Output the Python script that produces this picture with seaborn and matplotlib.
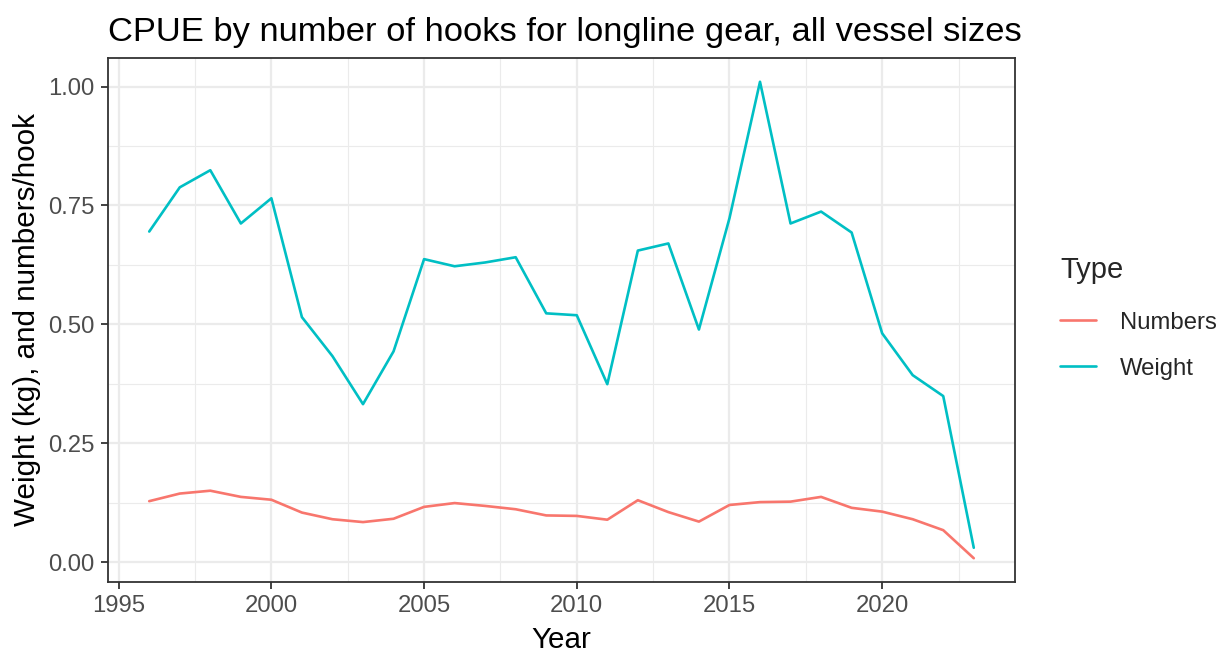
import numpy as np
import pandas as pd
import matplotlib
matplotlib.use("Agg")
import matplotlib.pyplot as plt
import seaborn as sns
from matplotlib.ticker import MultipleLocator

years = list(range(1996, 2024))
weight = [0.695, 0.788, 0.824, 0.712, 0.765, 0.515, 0.433, 0.332, 0.443, 0.637,
          0.622, 0.630, 0.641, 0.523, 0.519, 0.374, 0.655, 0.670, 0.489, 0.723,
          1.010, 0.712, 0.737, 0.693, 0.481, 0.393, 0.349, 0.030]
numbers = [0.128, 0.144, 0.150, 0.137, 0.131, 0.104, 0.090, 0.084, 0.091, 0.116,
           0.124, 0.118, 0.111, 0.098, 0.097, 0.089, 0.130, 0.105, 0.085, 0.120,
           0.126, 0.127, 0.137, 0.114, 0.106, 0.090, 0.067, 0.008]
types = ["Numbers", "Weight"]
colors = ["#F8766D", "#00BFC4"]

df = pd.DataFrame({
    "Year": years * 2,
    "CPUE": numbers + weight,
    "Type": ["Numbers"] * len(years) + ["Weight"] * len(years),
})

sns.set_theme(style="white")
plt.rcParams["font.family"] = ["Liberation Sans", "DejaVu Sans"]

fig = plt.figure(figsize=(12.25, 6.53), dpi=100)
ax = fig.add_axes([108/1225, 1-582/653, (1015-108)/1225, (582-58)/653])

sns.lineplot(data=df, x="Year", y="CPUE", hue="Type", hue_order=types,
             palette=colors, linewidth=1.9, ax=ax)

ax.set_xlim(1994.65, 2024.35)
ax.set_ylim(-0.042, 1.06)
ax.set_xticks([1995, 2000, 2005, 2010, 2015, 2020])
ax.set_yticks([0, 0.25, 0.5, 0.75, 1.0])
ax.set_yticklabels(["0.00", "0.25", "0.50", "0.75", "1.00"])
ax.xaxis.set_minor_locator(MultipleLocator(2.5))
ax.yaxis.set_minor_locator(MultipleLocator(0.125))
ax.grid(which="major", color="#EBEBEB", linewidth=1.6)
ax.grid(which="minor", color="#EBEBEB", linewidth=0.8)
ax.set_axisbelow(True)
for s in ax.spines.values():
    s.set_color("#333333")
    s.set_linewidth(1.3)
ax.tick_params(which="major", length=5, width=1.3, color="#333333",
               labelsize=17.2, labelcolor="#4D4D4D", pad=4.5,
               bottom=True, left=True)
ax.tick_params(which="minor", length=0)

ax.set_xlabel("Year", fontsize=21.3, color="black", labelpad=6)
ax.set_ylabel("Weight (kg), and numbers/hook", fontsize=21.3, color="black", labelpad=5)
ax.set_title("CPUE by number of hooks for longline gear, all vessel sizes",
             fontsize=24.8, loc="left", x=0.0, pad=12, color="black")

ax.legend_.remove()
handles = [plt.Line2D([], [], color=c, linewidth=1.9) for c in colors]
leg = fig.legend(handles, types, title="Type", loc="upper left",
                 bbox_to_anchor=(1060/1225, 1-256/653), frameon=False,
                 fontsize=17.2, title_fontsize=21, handlelength=1.5,
                 labelspacing=1.0, handletextpad=1.0, borderaxespad=0,
                 borderpad=0)
leg._legend_box.align = "left"
leg._legend_box.sep = 20

fig.savefig("out.png", dpi=100)
